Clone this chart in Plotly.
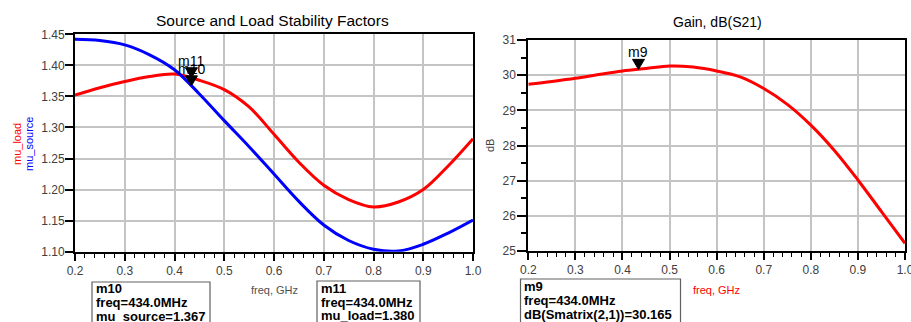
import plotly.graph_objects as go

# ---------------- data ----------------
freq = [0.2, 0.25, 0.3, 0.35, 0.4, 0.45, 0.5, 0.55, 0.6, 0.65, 0.7, 0.75, 0.8, 0.85, 0.9, 0.95, 1.0]
mu_source = [1.442, 1.440, 1.433, 1.417, 1.393, 1.354, 1.311, 1.269, 1.225, 1.181, 1.143, 1.118, 1.104, 1.101, 1.112, 1.130, 1.151]
mu_load = [1.352, 1.364, 1.374, 1.382, 1.386, 1.376, 1.361, 1.333, 1.289, 1.244, 1.207, 1.184, 1.172, 1.180, 1.200, 1.238, 1.282]
gain_db = [29.74, 29.82, 29.91, 30.02, 30.12, 30.19, 30.26, 30.23, 30.12, 29.95, 29.62, 29.17, 28.58, 27.86, 27.02, 26.12, 25.22]

marker_freq = 0.434
m10_val = 1.367   # mu_source
m11_val = 1.380   # mu_load
m9_val = 30.165   # dB(S21)

W, H = 911, 322
def px(x):
    return x / W
def py(y):
    return 1 - y / H

RED = "#ff0000"
BLUE = "#0000ff"
GRID = "#c4c4c4"
TICKC = "#404040"
FONT = "Liberation Sans, Arial, sans-serif"

fig = go.Figure()
fig.add_trace(go.Scatter(x=freq, y=mu_load, mode="lines", line=dict(color=RED, width=3, shape="spline"),
                         xaxis="x", yaxis="y", showlegend=False, hoverinfo="skip"))
fig.add_trace(go.Scatter(x=freq, y=mu_source, mode="lines", line=dict(color=BLUE, width=3, shape="spline"),
                         xaxis="x", yaxis="y", showlegend=False, hoverinfo="skip"))
fig.add_trace(go.Scatter(x=freq, y=gain_db, mode="lines", line=dict(color=RED, width=3, shape="spline"),
                         xaxis="x2", yaxis="y2", showlegend=False, hoverinfo="skip"))

common_x = dict(range=[0.2, 1.0], dtick=0.1, tick0=0.2, tickformat=".1f", showgrid=True, gridcolor=GRID, gridwidth=1.5,
                showline=True, linecolor="black", linewidth=2, mirror=True, ticks="outside", ticklen=7,
                tickcolor="black", tickwidth=1.5, tickfont=dict(family=FONT, size=12, color=TICKC),
                minor=dict(dtick=0.02, tick0=0.2, ticks="outside", ticklen=4, tickcolor="black", tickwidth=1, showgrid=False),
                zeroline=False, automargin=False, ticklabeloverflow="allow")

fig.update_layout(
    width=W, height=H, margin=dict(l=0, r=0, t=0, b=0, autoexpand=False),
    paper_bgcolor="white", plot_bgcolor="white",
    xaxis=dict(common_x, domain=[px(75), px(473)], anchor="y"),
    yaxis=dict(range=[1.10, 1.45], dtick=0.05, tickformat=".2f", domain=[py(251.7), py(34.3)], anchor="x",
               showgrid=True, gridcolor=GRID, gridwidth=1.5, showline=True, linecolor="black", linewidth=2,
               mirror=True, ticks="outside", ticklen=8, tickcolor="black", tickwidth=1.5, ticklabelstandoff=-2,
               tickfont=dict(family=FONT, size=12, color=TICKC), zeroline=False, automargin=False),
    xaxis2=dict(common_x, domain=[px(528.3), px(905)], anchor="y2"),
    yaxis2=dict(range=[25, 31], dtick=1, domain=[py(251), py(40)], anchor="x2",
                showgrid=True, gridcolor=GRID, gridwidth=1.5, showline=True, linecolor="black", linewidth=2,
                mirror=True, ticks="outside", ticklen=9, tickcolor="black", tickwidth=1.5, ticklabelstandoff=-1,
                tickfont=dict(family=FONT, size=12, color=TICKC), zeroline=False, automargin=False,
                minor=dict(dtick=0.5, ticks="outside", ticklen=5, tickcolor="black", tickwidth=1.5, showgrid=False)),
)

ann = []
def text_at(t, x, y, size, color, angle=0):
    ann.append(dict(text=t, x=px(x), y=py(y), xref="paper", yref="paper", textangle=angle, showarrow=False,
                    xanchor="center", yanchor="middle", font=dict(family=FONT, size=size, color=color)))

# titles
text_at("Source and Load Stability Factors", 272, 20, 15.5, "black")
text_at("Gain, dB(S21)", 717, 22, 14, "black")
# axis titles
text_at("mu_load", 17, 144, 11, RED, -90)
text_at("mu_source", 29, 144, 11, BLUE, -90)
text_at("dB", 490, 146, 11, "#404040", -90)
text_at("freq, GHz", 274, 290, 11, "#505050")
text_at("freq, GHz", 716, 290, 11, RED)

# marker labels
ann.append(dict(text="m11", x=marker_freq, y=m11_val, xref="x", yref="y", showarrow=False, yanchor="bottom",
                xanchor="center", yshift=7, font=dict(family=FONT, size=14, color="black")))
ann.append(dict(text="m10", x=marker_freq, y=m10_val, xref="x", yref="y", showarrow=False, yanchor="bottom",
                xanchor="center", yshift=7, font=dict(family=FONT, size=14, color="black")))
ann.append(dict(text="m9", x=marker_freq, y=m9_val, xref="x2", yref="y2", showarrow=False, yanchor="bottom",
                xanchor="center", yshift=7, font=dict(family=FONT, size=14, color="black")))

shapes = []

# marker readout boxes
def box(lines, left, top, right, ys):
    shapes.append(dict(type="rect", xref="paper", yref="paper", x0=px(left), x1=px(right), y0=py(top), y1=py(340),
                       line=dict(color="#606060", width=1.2), fillcolor="white", layer="above"))
    for t, yy in zip(lines, ys):
        ann.append(dict(text=t, x=px(left + 1.5), y=py(yy), xref="paper", yref="paper", showarrow=False,
                        xanchor="left", yanchor="middle", font=dict(family=FONT, size=13, color="black")))

box(["<b>m10</b>", "<b>freq=434.0MHz</b>", "<b>mu_source=1.367</b>"], 92, 282, 210, [288.5, 302.5, 316])
box(["<b>m11</b>", "<b>freq=434.0MHz</b>", "<b>mu_load=1.380</b>"], 317, 281, 420, [288, 302, 315.5])
box(["<b>m9</b>", "<b>freq=434.0MHz</b>", "<b>dB(Smatrix(2,1))=30.165</b>"], 520.5, 279, 680.5, [286.5, 300.5, 314])

# marker triangles (tip at the marker point)
for xr, yr, v in [("x", "y", m11_val), ("x", "y", m10_val), ("x2", "y2", m9_val)]:
    shapes.append(dict(type="path", xref=xr, yref=yr, xsizemode="pixel", ysizemode="pixel",
                       xanchor=marker_freq, yanchor=v, path="M -6 10 L 6 10 L 0 0 Z",
                       fillcolor="black", line=dict(color="black", width=1), layer="above"))

fig.update_layout(annotations=ann, shapes=shapes)
fig.write_html("out.html", config={"displayModeBar": False},
               post_script="document.body.style.margin='0';document.body.style.overflow='hidden';")
